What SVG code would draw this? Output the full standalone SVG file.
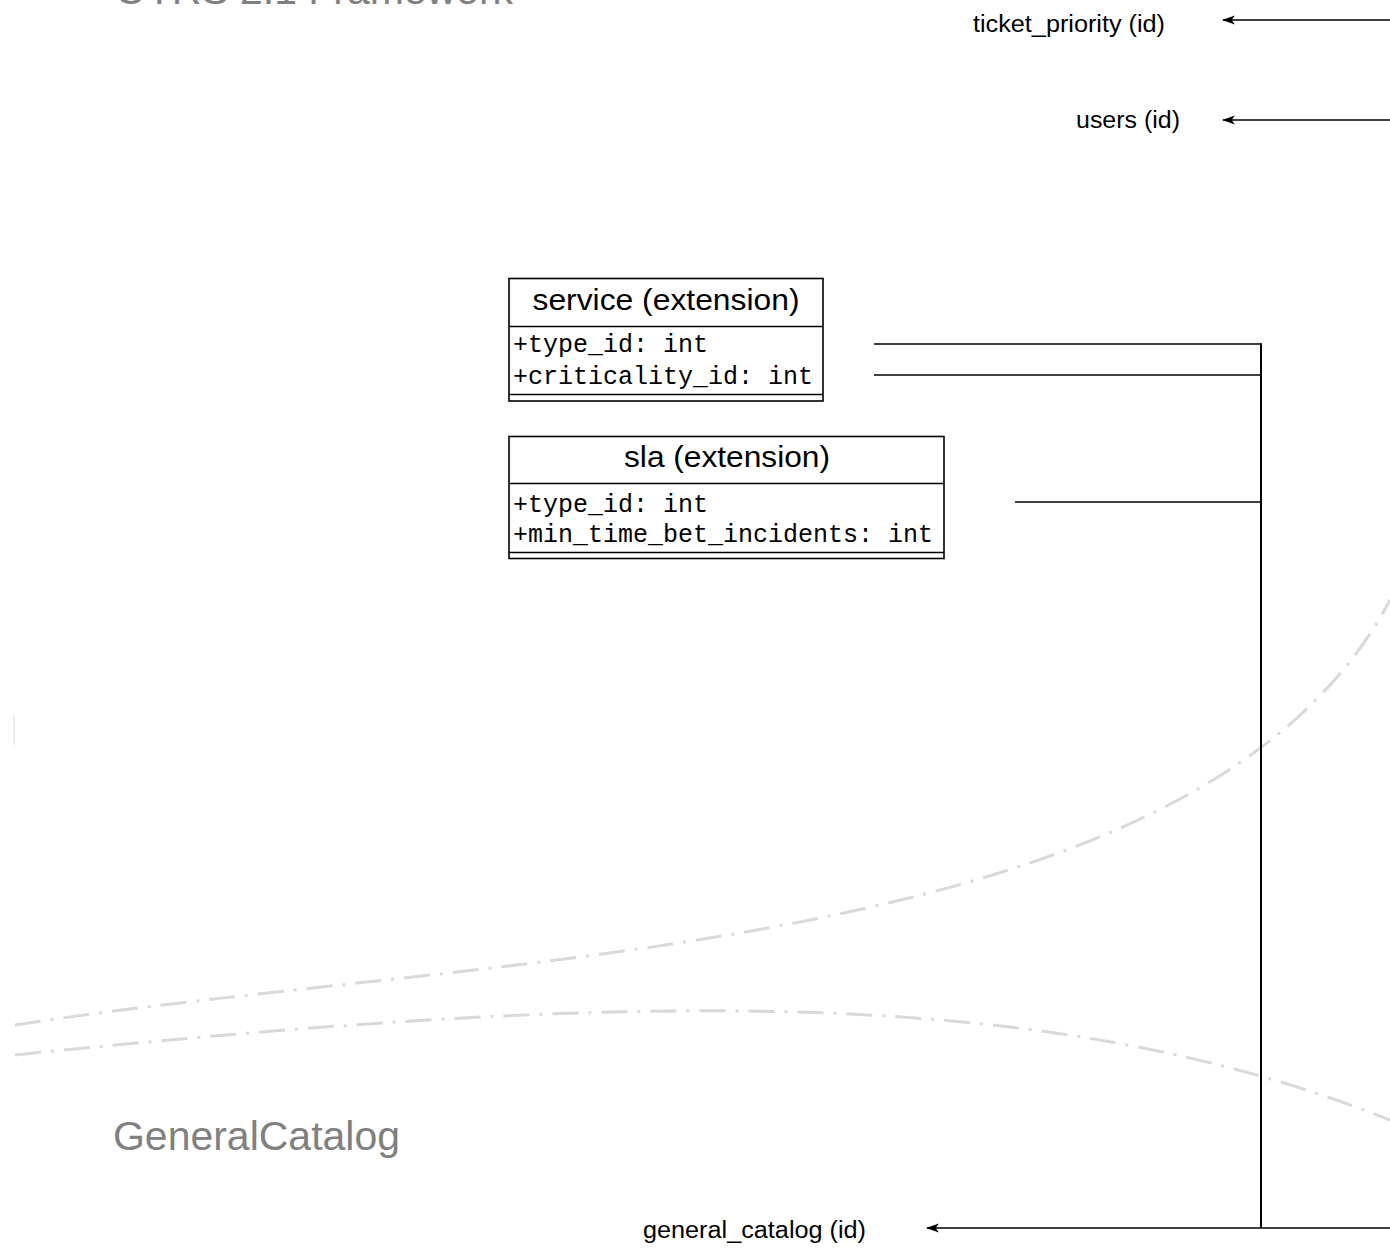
<svg xmlns="http://www.w3.org/2000/svg" width="1390" height="1251" viewBox="0 0 1390 1251">
<style>
.box{fill:#fff;stroke:#000;stroke-width:1.6}
.ln{stroke:#000;stroke-width:1.6;fill:none}
.hdr{font-family:"Liberation Sans",Arial,sans-serif;font-size:29px;fill:#000}
.attr{font-family:"Liberation Mono","Courier New",monospace;font-size:25px;fill:#000}
.lbl{font-family:"Liberation Sans",Arial,sans-serif;font-size:23px;fill:#000}
.big{font-family:"Liberation Sans",Arial,sans-serif;font-size:40px;fill:#808080}
.bnd{fill:none;stroke:#d9d9d9;stroke-width:3;stroke-dasharray:26 10 3 10}
</style>
<defs>
<marker id="ah" viewBox="0 0 13 10" refX="12" refY="5" markerWidth="13" markerHeight="10" markerUnits="userSpaceOnUse" orient="auto">
<path d="M13,5 L0,0.5 L3.5,5 L0,9.5 Z" fill="#000"/>
</marker>
</defs>
<rect width="1390" height="1251" fill="#fff"/>
<g id="boundaries">
<path class="bnd" d="M15,1025 C500,950 1200,960 1390,600"/>
<path class="bnd" d="M15,1055 C650,990 1050,985 1390,1120"/>
<line x1="14" y1="715" x2="14" y2="745" stroke="#eeeeee" stroke-width="2"/>
</g>
<g id="titles">
<text class="big" x="115" y="4" textLength="398" lengthAdjust="spacingAndGlyphs">OTRS 2.1 Framework</text>
<text class="big" x="113" y="1150" textLength="287" lengthAdjust="spacingAndGlyphs">GeneralCatalog</text>
</g>
<g id="service">
<rect class="box" x="509" y="278.5" width="314" height="122.5"/>
<line class="ln" x1="509" y1="326.5" x2="823" y2="326.5"/>
<line class="ln" x1="509" y1="394.5" x2="823" y2="394.5"/>
<text class="hdr" x="666" y="310" text-anchor="middle" textLength="267" lengthAdjust="spacingAndGlyphs">service (extension)</text>
<text class="attr" x="513" y="352">+type_id: int</text>
<text class="attr" x="513" y="384">+criticality_id: int</text>
</g>
<g id="sla">
<rect class="box" x="509" y="436.5" width="435" height="122"/>
<line class="ln" x1="509" y1="483.5" x2="944" y2="483.5"/>
<line class="ln" x1="509" y1="552.5" x2="944" y2="552.5"/>
<text class="hdr" x="727" y="467" text-anchor="middle" textLength="206" lengthAdjust="spacingAndGlyphs">sla (extension)</text>
<text class="attr" x="513" y="512">+type_id: int</text>
<text class="attr" x="513" y="542">+min_time_bet_incidents: int</text>
</g>
<g id="ticket_priority">
<text class="lbl" x="973" y="32" textLength="192" lengthAdjust="spacingAndGlyphs">ticket_priority (id)</text>
</g>
<g id="users">
<text class="lbl" x="1076" y="128" textLength="104" lengthAdjust="spacingAndGlyphs">users (id)</text>
</g>
<g id="general_catalog">
<text class="lbl" x="643" y="1238" textLength="223" lengthAdjust="spacingAndGlyphs">general_catalog (id)</text>
</g>
<g id="connectors">
<line class="ln" x1="1390" y1="20" x2="1223" y2="20" marker-end="url(#ah)"/>
<line class="ln" x1="1390" y1="120" x2="1223" y2="120" marker-end="url(#ah)"/>
<line class="ln" x1="874" y1="344" x2="1261" y2="344"/>
<line class="ln" x1="874" y1="375" x2="1261" y2="375"/>
<line class="ln" x1="1015" y1="502" x2="1261" y2="502"/>
<line x1="1261" y1="343.2" x2="1261" y2="1228" stroke="#000" stroke-width="2"/>
<line class="ln" x1="1390" y1="1228" x2="927" y2="1228" marker-end="url(#ah)"/>
</g>
</svg>
